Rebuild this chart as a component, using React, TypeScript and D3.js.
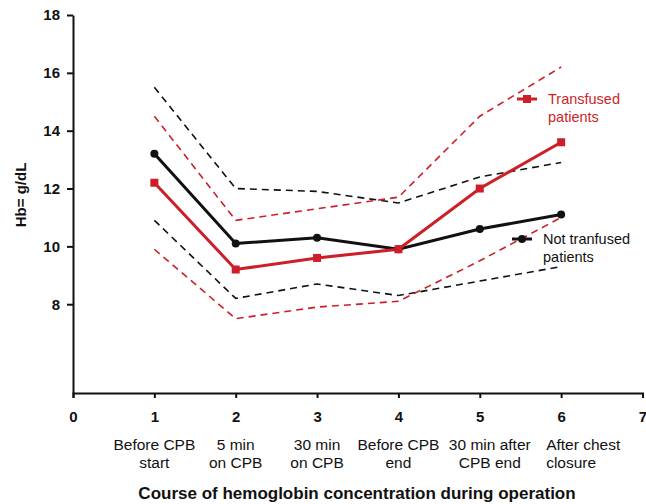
import React, { useRef, useEffect } from 'react';
import * as d3 from 'd3';

// DATA
const timePoints = [1, 2, 3, 4, 5, 6];
const timeLabels = [
  ['Before CPB', 'start'],
  ['5 min', 'on CPB'],
  ['30 min', 'on CPB'],
  ['Before CPB', 'end'],
  ['30 min after', 'CPB end'],
  ['After chest', 'closure'],
];
const xTicks = [0, 1, 2, 3, 4, 5, 6, 7];
const yTicks = [8, 10, 12, 14, 16, 18];

const notTransfused = [13.2, 10.1, 10.3, 9.9, 10.6, 11.1];
const notTransfusedUpper = [15.5, 12.0, 11.9, 11.5, 12.4, 12.9];
const notTransfusedLower = [10.9, 8.2, 8.7, 8.3, 8.8, 9.3];

const transfused = [12.2, 9.2, 9.6, 9.9, 12.0, 13.6];
const transfusedUpper = [14.5, 10.9, 11.3, 11.7, 14.5, 16.2];
const transfusedLower = [9.9, 7.5, 7.9, 8.1, 9.5, 11.0];

const RED = '#cc1f27';
const BLACK = '#111111';
const FONT = 'Arial, "Liberation Sans", sans-serif';

const App = () => {
  const svgRef = useRef<SVGSVGElement>(null);

  const w = 646,
    h = 504;

  useEffect(() => {
    const svg = d3.select(svgRef.current);
    svg.selectAll('*').remove();

    // SCALES
    const yMin = 4.93;
    const x = d3.scaleLinear().domain([0, 7]).range([73, 642.5]);
    const y = d3.scaleLinear().domain([yMin, 18]).range([393, 15]);

    // AXES
    const xAxis = d3.axisBottom(x).tickValues(xTicks).tickSize(5).tickSizeOuter(5).tickFormat(d3.format('d'));
    const yAxis = d3.axisLeft(y).tickValues(yTicks).tickSize(6).tickSizeOuter(0).tickFormat(d3.format('d'));

    const gx = svg.append('g').attr('transform', `translate(0, ${y(yMin)})`).call(xAxis);
    const gy = svg.append('g').attr('transform', `translate(${x(0)}, 0)`).call(yAxis);

    [gx, gy].forEach((g) => {
      g.select('.domain').attr('stroke', BLACK).attr('stroke-width', 2);
      g.selectAll('.tick line').attr('stroke', BLACK).attr('stroke-width', 2);
      g.selectAll('.tick text')
        .attr('fill', BLACK)
        .attr('font-family', FONT)
        .attr('font-size', 15)
        .attr('font-weight', 'bold');
    });
    gx.selectAll('.tick text').attr('y', 0).attr('dy', 0).attr('transform', 'translate(0, 28.5)');
    gy.selectAll('.tick text').attr('x', -13);

    // CATEGORY LABELS
    timeLabels.forEach((lines, i) => {
      const last = i === timeLabels.length - 1;
      const shift = i === 4 ? 10 : 0;
      const t = svg
        .append('text')
        .attr('font-family', FONT)
        .attr('font-size', 15.5)
        .attr('fill', BLACK)
        .attr('text-anchor', last ? 'start' : 'middle');
      lines.forEach((line, j) => {
        t.append('tspan')
          .attr('x', last ? x(timePoints[i]) - 15 : x(timePoints[i]) + shift)
          .attr('y', 450 + j * 18)
          .text(line);
      });
    });

    // AXIS TITLES
    svg
      .append('text')
      .attr('x', 357)
      .attr('y', 499)
      .attr('text-anchor', 'middle')
      .attr('font-family', FONT)
      .attr('font-size', 17)
      .attr('font-weight', 'bold')
      .attr('fill', BLACK)
      .text('Course of hemoglobin concentration during operation');

    svg
      .append('text')
      .attr('transform', `translate(26, 195) rotate(-90)`)
      .attr('text-anchor', 'middle')
      .attr('font-family', FONT)
      .attr('font-size', 15)
      .attr('font-weight', 'bold')
      .attr('fill', BLACK)
      .text('Hb= g/dL');

    const line = d3
      .line<number>()
      .x((_, i) => x(timePoints[i]))
      .y((d) => y(d));

    // DASHED BOUNDS
    const dashed = [
      { data: notTransfusedUpper, color: BLACK },
      { data: notTransfusedLower, color: BLACK },
      { data: transfusedUpper, color: RED },
      { data: transfusedLower, color: RED },
    ];
    dashed.forEach((s) => {
      svg
        .append('path')
        .attr('d', line(s.data))
        .attr('fill', 'none')
        .attr('stroke', s.color)
        .attr('stroke-width', 1.6)
        .attr('stroke-dasharray', '7,5');
    });

    // MAIN LINES
    svg
      .append('path')
      .attr('d', line(notTransfused))
      .attr('fill', 'none')
      .attr('stroke', BLACK)
      .attr('stroke-width', 3);
    svg
      .append('path')
      .attr('d', line(transfused))
      .attr('fill', 'none')
      .attr('stroke', RED)
      .attr('stroke-width', 3);

    svg
      .selectAll('.dot')
      .data(notTransfused)
      .enter()
      .append('circle')
      .attr('cx', (_, i) => x(timePoints[i]))
      .attr('cy', (d) => y(d))
      .attr('r', 4)
      .attr('fill', BLACK);

    svg
      .selectAll('.sq')
      .data(transfused)
      .enter()
      .append('rect')
      .attr('x', (_, i) => x(timePoints[i]) - 4)
      .attr('y', (d) => y(d) - 4)
      .attr('width', 8)
      .attr('height', 8)
      .attr('fill', RED);

    // LEGENDS
    const legend = (lx, ly, color, marker, lines) => {
      svg
        .append('line')
        .attr('x1', lx - 10)
        .attr('x2', lx + 10)
        .attr('y1', ly)
        .attr('y2', ly)
        .attr('stroke', color)
        .attr('stroke-width', 3);
      if (marker === 'square') {
        svg
          .append('rect')
          .attr('x', lx - 4)
          .attr('y', ly - 4)
          .attr('width', 8)
          .attr('height', 8)
          .attr('fill', color);
      } else {
        svg.append('circle').attr('cx', lx).attr('cy', ly).attr('r', 4).attr('fill', color);
      }
      const t = svg
        .append('text')
        .attr('font-family', FONT)
        .attr('font-size', 14.5)
        .attr('fill', color);
      lines.forEach((l, j) => {
        t.append('tspan')
          .attr('x', lx + 21)
          .attr('y', ly + 5 + j * 18)
          .text(l);
      });
    };
    legend(527, 99, RED, 'square', ['Transfused', 'patients']);
    legend(522, 239, BLACK, 'circle', ['Not tranfused', 'patients']);
  }, []);

  return (
    <svg
      ref={svgRef}
      width={w}
      height={h}
      style={{ position: 'absolute', left: 0, top: 0, background: '#fff' }}
    />
  );
};

export default App;
